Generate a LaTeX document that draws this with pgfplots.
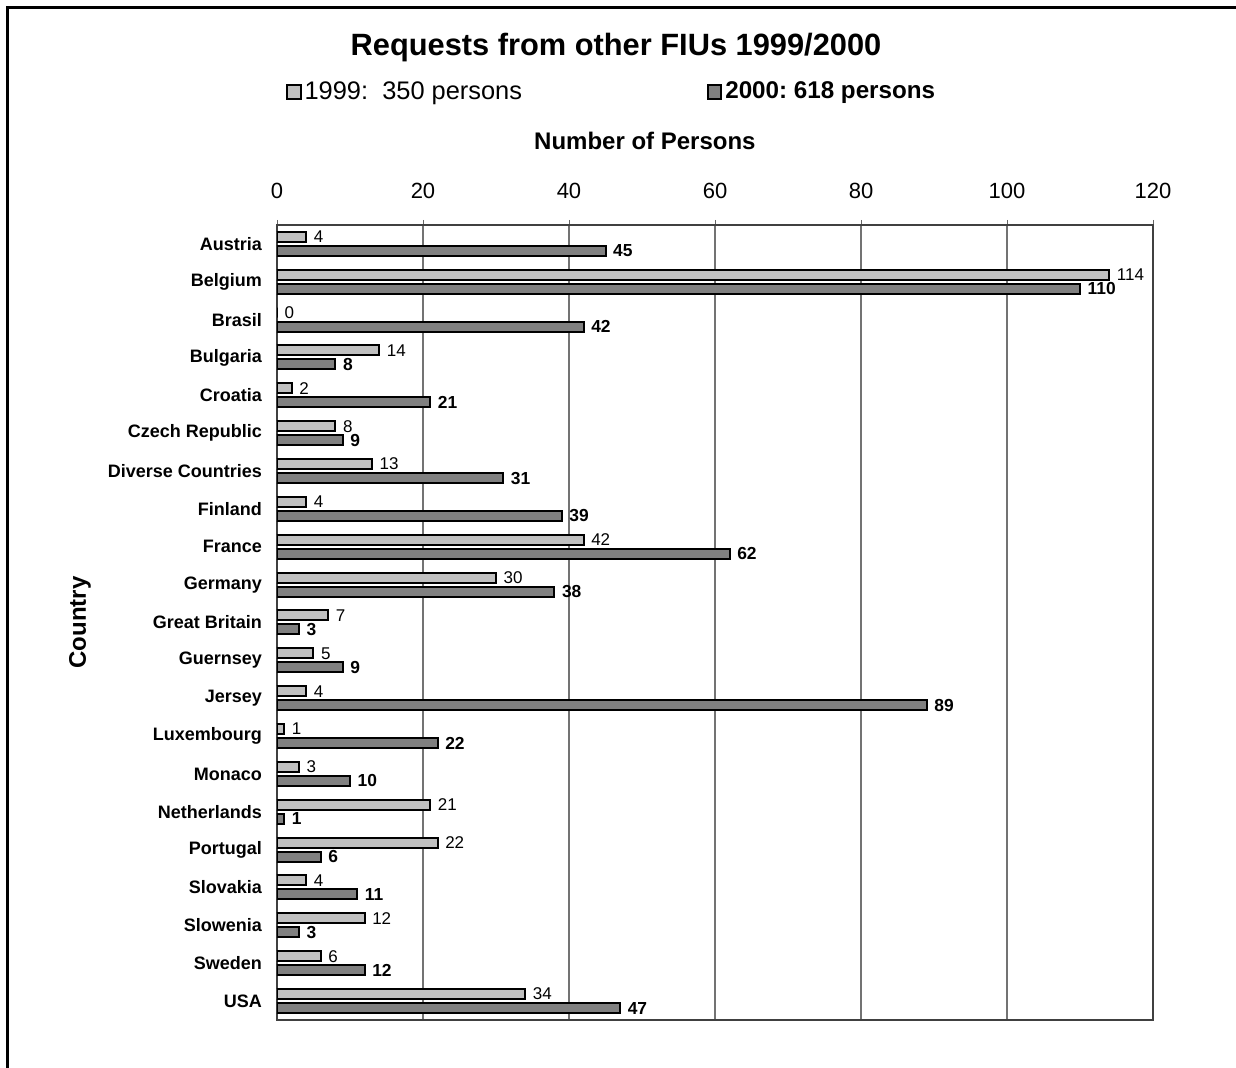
\documentclass[border=0pt]{standalone}
\usepackage{fontspec}
\setmainfont{Liberation Sans}
\usepackage{pgfplots}
\pgfplotsset{compat=1.18}
\definecolor{bar99}{RGB}{192,192,192}
\definecolor{bar00}{RGB}{128,128,128}
\frenchspacing

% Requests per country: 1999 and 2000
\pgfplotstableread{
idx y1999 y2000
0   4   45
1   114 110
2   0   42
3   14  8
4   2   21
5   8   9
6   13  31
7   4   39
8   42  62
9   30  38
10  7   3
11  5   9
12  4   89
13  1   22
14  3   10
15  21  1
16  22  6
17  4   11
18  12  3
19  6   12
20  34  47
}\requests

\begin{document}
\begin{tikzpicture}
\path[use as bounding box] (0,0) rectangle (618pt,534pt);
\draw[line width=1.5pt] (3.5pt,0) -- (3.5pt,530pt) -- (618pt,530pt);
\begin{axis}[
  at={(138.5pt,24pt)}, anchor=south west,
  scale only axis, width=438pt, height=397.5pt,
  xbar, bar width=5pt,
  xmin=0, xmax=120, ymin=-0.5, ymax=20.5,
  y dir=reverse,
  enlargelimits=false,
  xtick={0,20,...,120},
  xtick pos=right, xticklabel pos=right,
  tick align=outside, major tick length=2.5pt,
  xtick style={draw=black!60},
  xticklabel style={font=\fontsize{11}{13}\selectfont, yshift=7pt},
  /pgf/number format/assume math mode=true,
  ytick={0,...,20},
  yticklabels={Austria,Belgium,Brasil,Bulgaria,Croatia,Czech Republic,Diverse Countries,Finland,France,Germany,Great Britain,Guernsey,Jersey,Luxembourg,Monaco,Netherlands,Portugal,Slovakia,Slowenia,Sweden,USA},
  ytick style={draw=none},
  yticklabel style={font=\bfseries\fontsize{9}{11}\selectfont, xshift=-1.5pt},
  xmajorgrids, major grid style={black!55, line width=0.6pt},
  axis line style={black!75, line width=0.7pt},
  title={Requests from other FIUs 1999/2000},
  every axis title/.style={at={(axis description cs:0.387,1.2226)}, anchor=center, font=\bfseries\fontsize{15.4}{18}\selectfont},
  xlabel={Number of Persons},
  every axis x label/.style={at={(axis description cs:0.42,1.1057)}, anchor=center, font=\bfseries\fontsize{12}{14}\selectfont},
  ylabel={Country},
  every axis y label/.style={at={(axis description cs:-0.2249,0.5)}, anchor=center, rotate=90, font=\bfseries\fontsize{12}{14}\selectfont},
  legend columns=2,
  legend style={at={(axis description cs:0.0103,1.1673)}, anchor=west, draw=none, fill=none,
    font=\fontsize{12.7}{15}\selectfont, inner sep=0pt,
    nodes={inner sep=1.5pt},
    /tikz/every even column/.append style={column sep=91pt}},
  legend image code/.code={\draw[#1, line width=1pt] (0pt,-3.3pt) rectangle (6.6pt,3.3pt);},
  nodes near coords,
  point meta=x,
]
\addplot[fill=bar99, draw=black, line width=1pt, bar shift=3.5pt,
  nodes near coords style={font=\fontsize{8.5}{10}\selectfont, black}]
  table[x=y1999, y=idx] {\requests};
\addlegendentry{1999:\ \ 350 persons}
\addplot[fill=bar00, draw=black, line width=1pt, bar shift=-3.5pt,
  nodes near coords style={font=\bfseries\fontsize{8.7}{10}\selectfont, black}]
  table[x=y2000, y=idx] {\requests};
\addlegendentry{\textbf{\fontsize{12.1}{15}\selectfont 2000: 618 persons}}
\end{axis}
\end{tikzpicture}
\end{document}
